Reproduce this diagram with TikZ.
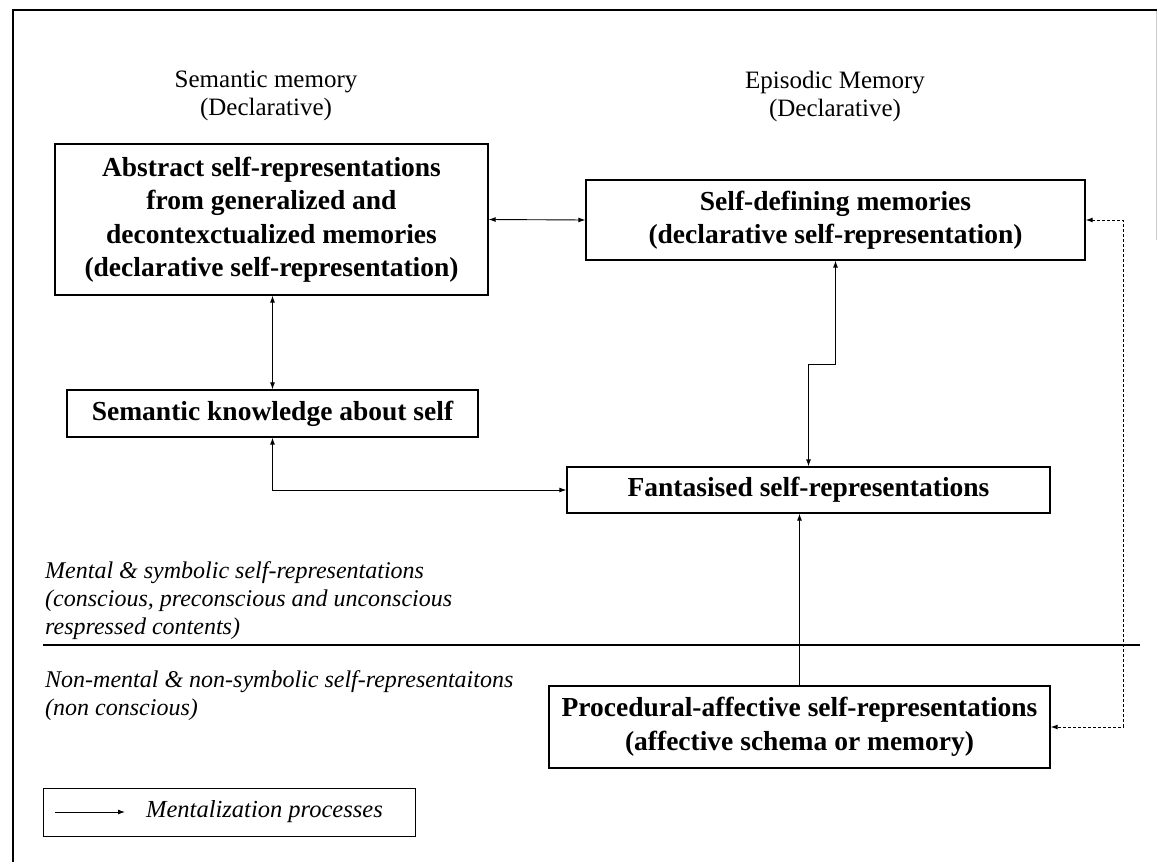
\documentclass[tikz,border=0pt]{standalone}
\usepackage{fontspec}
\setmainfont{Liberation Serif}
\usetikzlibrary{arrows.meta}
\tikzset{
  boxnode/.style={draw, line width=1.3pt, align=center, font=\fontsize{27.5}{33.5}\selectfont\bfseries, inner sep=0pt},
  headtext/.style={align=center, font=\fontsize{25}{28}\selectfont},
  notetext/.style={align=left, font=\fontsize{24}{28}\selectfont\itshape, anchor=north west, inner sep=0pt},
  link/.style={line width=0.9pt, {Latex[length=7pt,width=5pt]}-{Latex[length=7pt,width=5pt]}},
  onelink/.style={line width=0.9pt, -{Latex[length=7pt,width=5pt]}},
  dashlink/.style={line width=1pt, dashed, dash pattern=on 3pt off 2pt, {Latex[length=7pt,width=5pt]}-{Latex[length=7pt,width=5pt]}}
}
\begin{document}
\begin{tikzpicture}[x=1pt,y=-1pt]
\useasboundingbox (0,0) rectangle (1157,862);
% frame
\draw[line width=2.5pt] (13,862) -- (13,10) -- (1157,10);
\draw[gray!40, line width=0.8pt] (1156,11) -- (1156,240);

% headers
\node[headtext] (hsem) at (266,96) {Semantic memory\\(Declarative)};
\node[headtext] (hepi) at (835,96) {Episodic Memory\\(Declarative)};

% boxes
\node[boxnode, minimum width=433pt, minimum height=151pt] (abs) at (271.5,219.5)
  {Abstract self-representations\\from generalized and\\decontexctualized memories\\(declarative self-representation)};
\node[boxnode, minimum width=499pt, minimum height=80pt] (sd) at (835.5,220)
  {Self-defining memories\\(declarative self-representation)};
\node[boxnode, minimum width=411pt, minimum height=47pt] (sem) at (272.5,413.5)
  {Semantic knowledge about self};
\node[boxnode, minimum width=483pt, minimum height=46pt] (fant) at (808.5,490)
  {Fantasised self-representations};
\node[boxnode, minimum width=501pt, minimum height=82pt] (proc) at (799.5,727)
  {Procedural-affective self-representations\\(affective schema or memory)};

% notes
\node[notetext] (n1) at (45,561) {Mental \& symbolic self-representations\\(conscious, preconscious and unconscious\\respressed contents)};
\node[notetext] (n2) at (45,670) {Non-mental \& non-symbolic self-representaitons\\(non conscious)};

% divider
\coordinate (dl) at (43,645);
\coordinate (dr) at (1140,645);
\draw[line width=2pt] (dl) -- (dr);

% connectors
\coordinate (kink) at (835.5,364);
\coordinate (dx) at (1123,0);
\draw[link] (abs.east) -- (sd.west);
\draw[link] (sem.north |- abs.south) -- (sem.north);
\draw[link] (sem.south) |- (fant.west);
\draw[link] (sd.south) -- (sd.south |- kink) -| (fant.north);
\draw[onelink] (proc.north) -- (proc.north |- fant.south);
\draw[dashlink] (sd.east) -- (sd.east -| dx) -- (dx |- proc.east) -- (proc.east);

% legend
\node[draw, line width=1pt, minimum width=372pt, minimum height=48pt, inner sep=0pt] (leg) at (229,812) {};
\coordinate (la) at (55,812);
\coordinate (lb) at (125,812);
\draw[onelink] (la) -- (lb);
\node[anchor=west, font=\fontsize{24.5}{28}\selectfont\itshape, inner sep=0pt] (legt) at (146,812) {Mentalization processes};
\end{tikzpicture}
\end{document}
